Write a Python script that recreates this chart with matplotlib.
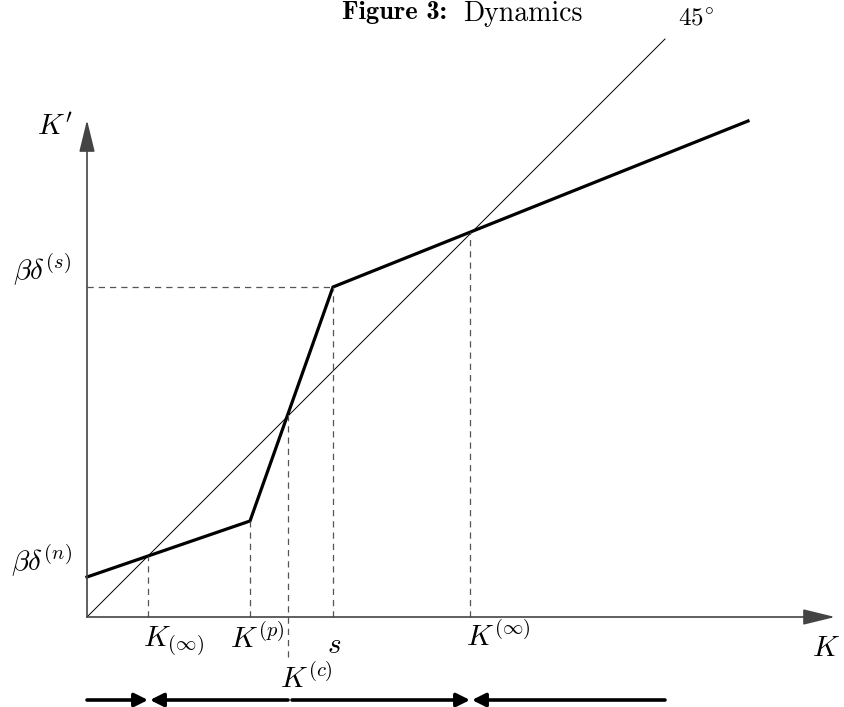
# Figure 3: Dynamics - piecewise linear map K -> K'
import numpy as np
from matplotlib import pyplot as plt

plt.rcParams["mathtext.fontset"] = "cm"
plt.rcParams["font.family"] = "serif"
plt.rcParams["font.serif"] = ["DejaVu Serif"]

# kink points of the thick policy line (units: pixels from the origin)
policy_x = [0, 163, 246, 661]
policy_y = [40, 96, 330, 496]

# 45 degree line end
diag_end = 578

# special points on the K axis
k_low = 61      # K_(inf)
k_p = 163       # K^(p)
k_c = 201       # K^(c)
k_s = 246       # s
k_high = 383    # K^(inf)

# levels on the K' axis
bd_n = 40
bd_s = 330

# axis lengths
x_axis_end = 748
y_axis_end = 497

# dynamics arrows below the axis: (tail, head)
flow_arrows = [(0, k_low), (k_c, k_low + 2), (k_c + 4, k_high), (578, k_high + 2)]

fig = plt.figure(figsize=(8.44, 7.07), dpi=100)
ax = fig.add_axes([0, 0, 1, 1])
ax.set_xlim(-87, 757)
ax.set_ylim(-90, 617)
ax.axis("off")

axis_col = "#444444"
dash_col = "#555555"

# axes with arrow heads
for tip in [(x_axis_end, 0), (0, y_axis_end)]:
    ax.annotate("", xy=tip, xytext=(0, 0),
                arrowprops=dict(arrowstyle="-|>,head_length=0.9,head_width=0.22", color=axis_col,
                                lw=1.2, mutation_scale=22, shrinkA=0, shrinkB=0))

# 45 degree line
ax.plot([0, diag_end], [0, diag_end], color="black", lw=0.7)

# policy line
ax.plot(policy_x, policy_y, color="black", lw=2.3, solid_joinstyle="miter")

# dashed guides
def k_prime(k):
    return np.interp(k, policy_x, policy_y)

dash = dict(color=dash_col, lw=0.9, ls=(0, (5, 4)))
for k in [k_low, k_p, k_s, k_high]:
    ax.plot([k, k], [0, k_prime(k)], **dash)
ax.plot([k_c, k_c], [-40, k_prime(k_c)], **dash)
ax.plot([0, k_s], [bd_s, bd_s], **dash)

# labels
fs = 21
ax.text(-32, 490, r"$K'$", fontsize=fs, ha="center", va="center")
ax.text(-45, bd_s + 17, r"$\beta\delta^{(s)}$", fontsize=fs, ha="center", va="center")
ax.text(-45, bd_n + 16, r"$\beta\delta^{(n)}$", fontsize=fs, ha="center", va="center")
ax.text(k_low + 25, -25, r"$K_{(\infty)}$", fontsize=fs, ha="center", va="center")
ax.text(k_p + 7, -22, r"$K^{(p)}$", fontsize=fs, ha="center", va="center")
ax.text(k_s + 1, -28, r"$s$", fontsize=fs, ha="center", va="center")
ax.text(k_high + 28, -20, r"$K^{(\infty)}$", fontsize=fs, ha="center", va="center")
ax.text(739, -31, r"$K$", fontsize=fs, ha="center", va="center")
ax.text(k_c + 18, -62, r"$K^{(c)}$", fontsize=fs, ha="center", va="center")
ax.text(609, 598, r"$45^{\circ}$", fontsize=18, ha="center", va="center")

# title in two pieces: bold "Figure 3:" and roman "Dynamics"
ax.text(360, 616, "Figure 3:", fontsize=19, family="cmb10", ha="right", va="top")
ax.text(376, 616, "Dynamics", fontsize=20, family="cmr10", ha="left", va="top")

# dynamics arrows
for tail, head in flow_arrows:
    ax.annotate("", xy=(head, -83), xytext=(tail, -83),
                arrowprops=dict(arrowstyle="-|>", color="black", lw=2.6, mutation_scale=20,
                                shrinkA=0, shrinkB=0))

plt.savefig("out.png", dpi=100)
